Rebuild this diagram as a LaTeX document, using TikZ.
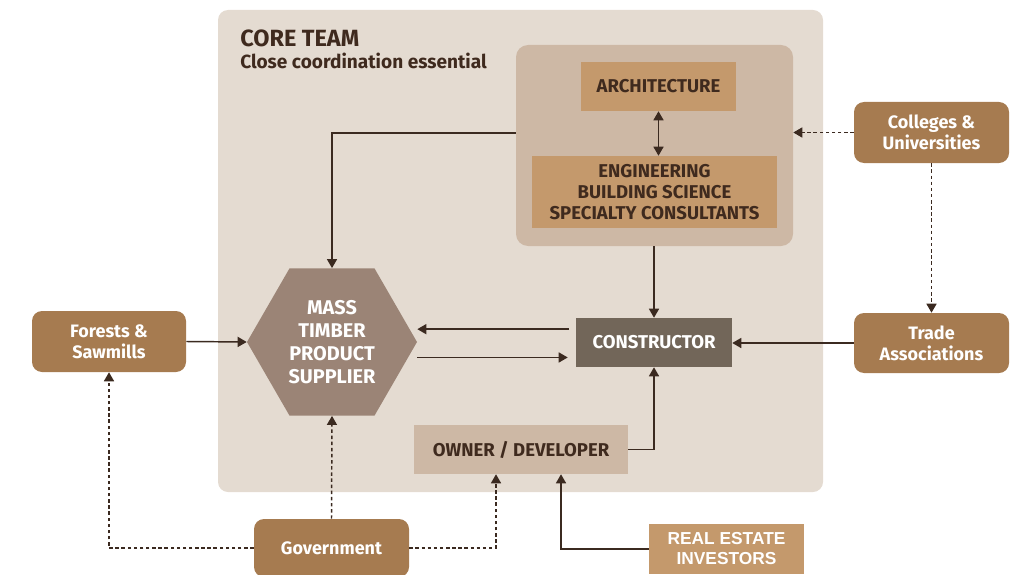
\documentclass[tikz,border=0pt]{standalone}
\usepackage{fontspec}
\setmainfont{Fira Sans}
\newfontfamily\arialfont{Liberation Sans}
\usetikzlibrary{arrows.meta,shapes.geometric,fit}
\definecolor{corebg}{HTML}{E4DBD1}
\definecolor{innerbg}{HTML}{CDB8A5}
\definecolor{tanbox}{HTML}{C4996C}
\definecolor{hexcol}{HTML}{9B8476}
\definecolor{constcol}{HTML}{726659}
\definecolor{brownbox}{HTML}{A67B50}
\definecolor{darktext}{HTML}{3F2A1E}
\definecolor{linecol}{HTML}{3B2A20}
\tikzset{
  plainbox/.style={inner sep=0pt, align=center, font=\bfseries\fontsize{13.9pt}{15.75pt}\selectfont},
  roundbox/.style={inner sep=0pt, fill=brownbox, rounded corners=7.5pt, text=white, align=center, font=\bfseries\fontsize{13.5pt}{15.75pt}\selectfont},
  conn/.style={draw=linecol, line width=1.1pt, -{Triangle[length=6.75pt,width=7.5pt]}},
  dotconn/.style={conn, dash pattern=on 2.6pt off 2pt},
}
\begin{document}
\begin{tikzpicture}[x=0.75pt,y=-0.75pt]
\useasboundingbox (0,0) rectangle (1030,574);
\clip (0,0) rectangle (1030,574);
% core team area
\node[fit={(218,10) (823,492)}, inner sep=0pt, fill=corebg, rounded corners=7.5pt] (core) {};
\node[anchor=base west, inner sep=0pt, text=darktext, font=\bfseries\fontsize{17.6pt}{20pt}\selectfont] (title) at (240,47) {CORE TEAM};
\node[anchor=base west, inner sep=0pt, text=darktext, font=\bfseries\fontsize{14.3pt}{17pt}\selectfont] (subtitle) at (240,69) {Close coordination essential};
% design team
\node[fit={(516,45) (793,246)}, inner sep=0pt, fill=innerbg, rounded corners=9pt] (inner) {};
\node[plainbox, fill=tanbox, text=darktext, minimum width=116.25pt, minimum height=36.75pt] (arch) at (658.5,86.5) {ARCHITECTURE};
\node[plainbox, fill=tanbox, text=darktext, minimum width=183.75pt, minimum height=54pt] (eng) at (654.5,192) {ENGINEERING\\BUILDING SCIENCE\\SPECIALTY CONSULTANTS};
% hexagon
\node[regular polygon, regular polygon sides=6, minimum size=127.5pt, inner sep=0pt, fill=hexcol, text=white, align=center, font=\bfseries\fontsize{14.9pt}{17.25pt}\selectfont] (hex) at (332,342) {MASS\\TIMBER\\PRODUCT\\SUPPLIER};
% constructor
\node[plainbox, fill=constcol, text=white, minimum width=117pt, minimum height=36.75pt] (constr) at (654,342.5) {CONSTRUCTOR};
% owner
\node[plainbox, fill=innerbg, text=darktext, minimum width=160.5pt, minimum height=36.75pt] (owner) at (521,449.5) {OWNER / DEVELOPER};
% outside nodes
\node[roundbox, minimum width=115.5pt, minimum height=45.75pt] (forest) at (109,341.5) {Forests \&\\Sawmills};
\node[roundbox, minimum width=116.25pt, minimum height=45.75pt] (colleges) at (931.5,132.5) {Colleges \&\\Universities};
\node[roundbox, minimum width=116.25pt, minimum height=45pt] (trade) at (931.5,343) {Trade\\Associations};
\node[roundbox, minimum width=116.25pt, minimum height=43.5pt] (gov) at (331.5,548) {Government};
\node[inner sep=0pt, fill=tanbox, text=white, align=center, minimum width=116.25pt, minimum height=37.5pt, font=\arialfont\bfseries\fontsize{13pt}{15pt}\selectfont] (realestate) at (726.5,549) {REAL ESTATE\\INVESTORS};
% connectors
\draw[conn] (forest.east) -- (hex.west);
\draw[conn] ([yshift=9.4pt]inner.west) -| (hex.north);
\draw[conn, {Triangle[length=6.75pt,width=7.5pt]}-{Triangle[length=6.75pt,width=7.5pt]}] (arch.south) -- (arch.south |- eng.north);
\draw[conn] (constr.north |- inner.south) -- (constr.north);
\draw[conn, shorten <=5pt] ([yshift=10pt]constr.west) -- ([yshift=10pt]constr.west -| hex.east);
\draw[conn, shorten >=6pt] ([yshift=-11.6pt]hex.east) -- ([yshift=-11.6pt]hex.east -| constr.west);
\draw[conn] (trade.west) -- (trade.west -| constr.east);
\draw[dotconn] (colleges.west) -- (colleges.west -| inner.east);
\draw[dotconn] (colleges.south) -- (trade.north);
\draw[conn] (owner.east) -| (constr.south);
\draw[dotconn] (gov.north) -- (hex.south);
\draw[dotconn] (gov.west) -| (forest.south);
\draw[dotconn] (gov.east) -| ([xshift=-18.75pt]owner.south);
\draw[conn] (realestate.west) -| ([xshift=30pt]owner.south);
\end{tikzpicture}
\end{document}
